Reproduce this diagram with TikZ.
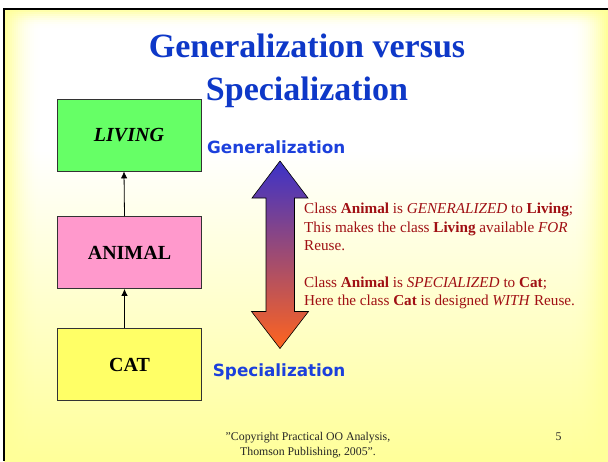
\documentclass[tikz,border=0pt]{standalone}
\usepackage{fontspec}
\setmainfont{Liberation Serif}
\newfontfamily\sidefont{DejaVu Sans}
\usetikzlibrary{arrows.meta}
\definecolor{slideyellow}{RGB}{255,255,153}
\definecolor{titleblue}{RGB}{14,56,200}
\definecolor{labelblue}{RGB}{28,64,220}
\definecolor{textred}{RGB}{160,16,20}
\definecolor{livinggreen}{RGB}{102,255,102}
\definecolor{animalpink}{RGB}{255,153,204}
\definecolor{catyellow}{RGB}{255,255,102}
\definecolor{arrowtop}{RGB}{60,50,200}
\definecolor{arrowmid}{RGB}{190,80,140}
\definecolor{arrowbot}{RGB}{255,100,30}
\begin{document}
\begin{tikzpicture}[x=1pt,y=-1pt,
  classbox/.style={draw=black!80, line width=0.8pt, minimum width=144pt, minimum height=72pt, inner sep=0pt, font=\fontsize{20}{24}\selectfont\bfseries},
  inherit/.style={-{Latex[length=7pt,width=6.5pt]}, line width=0.8pt},
  titleline/.style={anchor=base, inner sep=0pt, text=titleblue, font=\fontsize{34}{40}\selectfont\bfseries},
  sidelabel/.style={anchor=base west, inner sep=0pt, text=labelblue, font=\sidefont\fontsize{16.8}{20}\selectfont\bfseries},
  bodyline/.style={anchor=base west, inner sep=0pt, text=textred, font=\fontsize{15.2}{18}\selectfont},
  footer/.style={anchor=base, inner sep=0pt, text=black!85, font=\fontsize{11.8}{14}\selectfont}
]
\useasboundingbox (0,0) rectangle (608,461);
% background
\fill[white] (0,0) rectangle (608,461);
\shade[top color=white, bottom color=slideyellow] (4,150) rectangle (608,461);
\foreach \i in {0,...,17}{
  \pgfmathsetmacro{\op}{(1-\i/18)^2}
  \fill[slideyellow, opacity=\op] (4+2*\i,8) rectangle (6+2*\i,461);
  \fill[slideyellow, opacity=\op] (608-2*\i,8) rectangle (606-2*\i,461);
}
\foreach \i in {0,...,9}{
  \pgfmathsetmacro{\op}{(1-\i/10)^2}
  \fill[slideyellow, opacity=\op] (4,8+2*\i) rectangle (608,10+2*\i);
}
\draw[line width=2pt] (3.5,461) -- (3.5,8.5) -- (608,8.5);
% title
\node[titleline] (t1) at (307,57) {Generalization versus};
\node[titleline] (t2) at (307,100) {Specialization};
% class boxes
\node[classbox, fill=livinggreen] (living) at (129,135) {\itshape LIVING};
\node[classbox, fill=animalpink] (animal) at (129.5,252.5) {ANIMAL};
\node[classbox, fill=catyellow] (cat) at (129.5,364.5) {CAT};
\draw[inherit] ([xshift=-5pt]cat.north) -- ([xshift=-5pt]animal.south);
\draw[inherit] ([xshift=-5pt]animal.north) -- ([xshift=-5pt]living.south);
% double arrow
\shadedraw[top color=arrowtop, middle color=arrowmid, bottom color=arrowbot, draw=black, line width=0.6pt]
  (280,161) -- (308,198) -- (294.5,198) -- (294.5,311.5) -- (308.5,311.5) -- (280,348.5)
  -- (251.5,311.5) -- (266,311.5) -- (266,198) -- (252,198) -- cycle;
\node[sidelabel] (gen) at (207,153.3) {Generalization};
\node[sidelabel] (spec) at (212.7,376.7) {Specialization};
% explanation
\node[bodyline] (b1) at (304,213) {Class \textbf{Animal} is \textit{GENERALIZED} to \textbf{Living};};
\node[bodyline] (b2) at (304,232) {This makes the class \textbf{Living} available \textit{FOR}};
\node[bodyline] (b3) at (304,250.5) {Reuse.};
\node[bodyline] (b4) at (304,287.7) {Class \textbf{Animal} is \textit{SPECIALIZED} to \textbf{Cat};};
\node[bodyline] (b5) at (304,305.5) {Here the class \textbf{Cat} is designed \textit{WITH} Reuse.};
% footer
\node[footer] (f1) at (308,440) {\symbol{34}Copyright Practical OO Analysis,};
\node[footer] (f2) at (308,455) {Thomson Publishing, 2005\symbol{34}.};
\node[footer, anchor=base west] (page) at (555.5,440) {5};
\end{tikzpicture}
\end{document}
